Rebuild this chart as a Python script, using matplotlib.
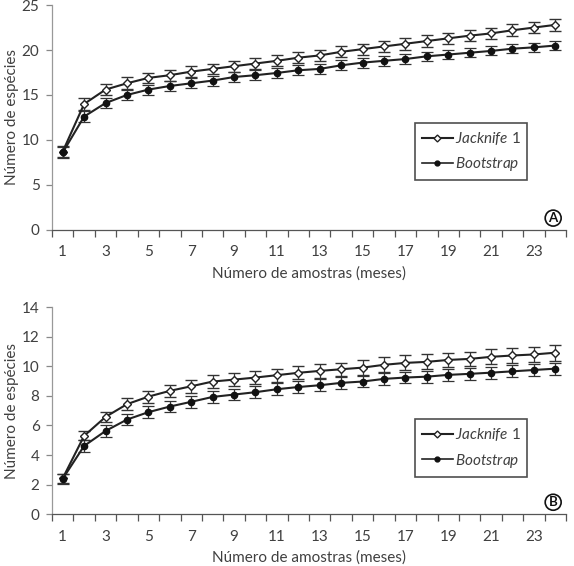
import numpy as np
import matplotlib.pyplot as plt
from matplotlib.lines import Line2D

plt.rcParams['font.family'] = ['Lato', 'DejaVu Sans']
plt.rcParams['mathtext.fontset'] = 'custom'
plt.rcParams['mathtext.it'] = 'Lato:italic'
plt.rcParams['mathtext.rm'] = 'Lato'

months = list(range(1, 25))
tick_labels = [str(m) if m % 2 == 1 else '' for m in months]

# Panel A
jack_a = [8.7, 14.0, 15.6, 16.3, 16.9, 17.2, 17.6, 17.9, 18.2, 18.5, 18.8, 19.15,
          19.4, 19.8, 20.1, 20.4, 20.7, 21.0, 21.3, 21.6, 21.85, 22.2, 22.5, 22.8]
jack_a_err = [0.6, 0.65, 0.65, 0.65, 0.6, 0.6, 0.6, 0.6, 0.6, 0.6, 0.6, 0.6,
              0.6, 0.6, 0.6, 0.6, 0.65, 0.65, 0.65, 0.65, 0.65, 0.65, 0.65, 0.7]
boot_a = [8.6, 12.6, 14.1, 15.0, 15.6, 16.0, 16.3, 16.6, 17.0, 17.2, 17.45, 17.75,
          17.9, 18.3, 18.6, 18.8, 19.0, 19.3, 19.5, 19.7, 19.9, 20.15, 20.3, 20.5]
boot_a_err = [0.6, 0.6, 0.6, 0.6, 0.55, 0.55, 0.55, 0.55, 0.55, 0.55, 0.55, 0.55,
              0.55, 0.55, 0.55, 0.55, 0.55, 0.5, 0.5, 0.5, 0.5, 0.5, 0.5, 0.5]

# Panel B
jack_b = [2.43, 5.3, 6.58, 7.44, 7.95, 8.34, 8.65, 8.97, 9.1, 9.24, 9.4, 9.56,
          9.69, 9.8, 9.91, 10.1, 10.23, 10.3, 10.43, 10.5, 10.64, 10.73, 10.8, 10.92]
jack_b_err = [0.3, 0.3, 0.35, 0.4, 0.4, 0.4, 0.45, 0.45, 0.45, 0.45, 0.45, 0.45,
              0.45, 0.45, 0.5, 0.5, 0.5, 0.5, 0.5, 0.5, 0.5, 0.5, 0.5, 0.53]
boot_b = [2.4, 4.62, 5.63, 6.4, 6.9, 7.28, 7.6, 7.93, 8.09, 8.25, 8.45, 8.6,
          8.72, 8.88, 8.97, 9.15, 9.24, 9.3, 9.42, 9.49, 9.57, 9.66, 9.75, 9.84]
boot_b_err = [0.35, 0.43, 0.4, 0.4, 0.4, 0.4, 0.4, 0.4, 0.4, 0.4, 0.4, 0.4,
              0.4, 0.4, 0.4, 0.4, 0.4, 0.4, 0.4, 0.4, 0.4, 0.4, 0.4, 0.4]

panels = [
    dict(jack=jack_a, jerr=jack_a_err, boot=boot_a, berr=boot_a_err,
         ymax=25, ystep=5, rect=[0.0906, 0.594, 0.8955, 0.397],
         leg_anchor=(0.925, 0.221), letter='A', letter_y=0.052),
    dict(jack=jack_b, jerr=jack_b_err, boot=boot_b, berr=boot_b_err,
         ymax=14, ystep=2, rect=[0.0906, 0.0914, 0.8955, 0.366],
         leg_anchor=(0.925, 0.182), letter='B', letter_y=0.058),
]

text_color = '#404040'
line_color = '#222222'
fig = plt.figure(figsize=(5.74, 5.66), dpi=100)

x = np.arange(len(months))
for p in panels:
    ax = fig.add_axes(p['rect'])
    ax.errorbar(x, p['jack'], yerr=p['jerr'], color=line_color, lw=1.5,
                marker='D', ms=4.5, mfc='white', mec=line_color, mew=1.0,
                ecolor='#333333', elinewidth=0.9, capsize=4, capthick=0.9,
                zorder=3)
    ax.errorbar(x, p['boot'], yerr=p['berr'], color=line_color, lw=1.5,
                marker='o', ms=4.5, mfc='#111111', mec='#111111',
                ecolor='#333333', elinewidth=0.9, capsize=4, capthick=0.9,
                zorder=3)

    ax.set_xlim(-0.5, len(months) - 0.5)
    ax.set_ylim(0, p['ymax'])
    ax.set_yticks(np.arange(0, p['ymax'] + 0.1, p['ystep']))
    ax.set_xticks(x)
    ax.set_xticklabels(tick_labels)
    ax.set_xticks(np.arange(-0.5, len(months)), minor=True)
    ax.tick_params(axis='x', which='major', length=0, pad=11,
                   labelsize=11, labelcolor=text_color)
    ax.tick_params(axis='x', which='minor', length=5, width=0.9,
                   color='#555555', direction='out')
    ax.tick_params(axis='y', length=4, width=0.9, color='#888888',
                   labelsize=11, labelcolor=text_color, pad=5)

    for s in ['top', 'right']:
        ax.spines[s].set_visible(False)
    ax.spines['left'].set_color('#999999')
    ax.spines['bottom'].set_color('#555555')
    ax.spines['left'].set_linewidth(0.9)
    ax.spines['bottom'].set_linewidth(0.9)

    ax.set_ylabel('Número de espécies', fontsize=11, color=text_color)
    ax.yaxis.set_label_coords(-0.064, 0.5)
    ax.set_xlabel('Número de amostras (meses)', fontsize=11, color=text_color,
                  labelpad=5)

    handles = [
        Line2D([], [], color=line_color, lw=1.5, marker='D', ms=3.5,
               mfc='white', mec=line_color, mew=1.0),
        Line2D([], [], color=line_color, lw=1.2, marker='o', ms=3.5,
               mfc='#111111', mec='#111111'),
    ]
    leg = ax.legend(handles, [r'$\it{Jacknife}$ 1', r'$\it{Bootstrap}$'],
                    loc='lower right', bbox_to_anchor=p['leg_anchor'],
                    borderaxespad=0, fancybox=False, edgecolor='#222222',
                    fontsize=11, handlelength=2.0, handletextpad=0.15,
                    labelspacing=0.55, borderpad=0.45, labelcolor=text_color)
    leg.get_frame().set_linewidth(1.2)

    ax.text(0.975, p['letter_y'], p['letter'], transform=ax.transAxes,
            ha='center', va='center', fontsize=9.5, fontweight='bold',
            color='#111111',
            bbox=dict(boxstyle='circle,pad=0.15', fc='white', ec='#111111', lw=1.2))

plt.savefig('out.png', dpi=100)
